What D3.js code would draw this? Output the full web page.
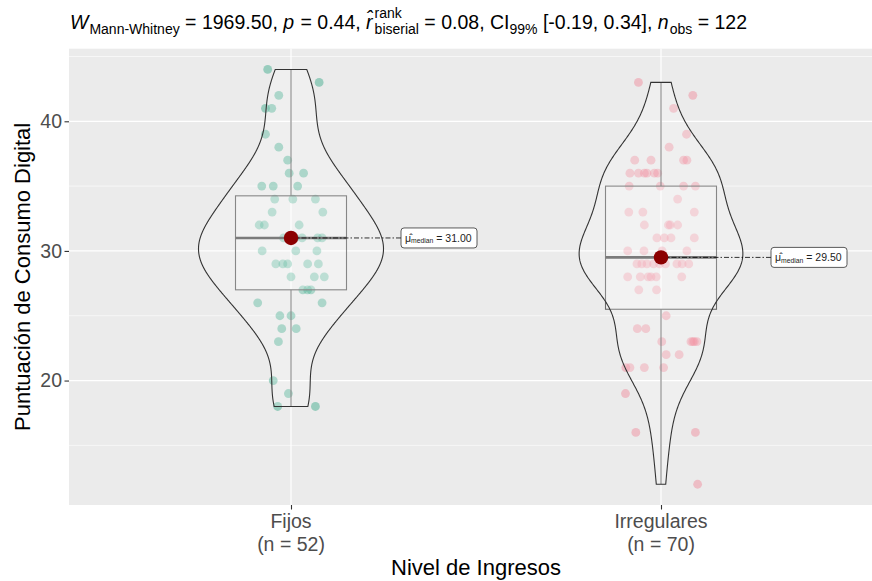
<!DOCTYPE html>
<html>
<head>
<meta charset="utf-8">
<script src="https://cdn.jsdelivr.net/npm/d3@7"></script>
<style>
  body { margin: 0; background: #fff; }
  svg { display: block; font-family: "Liberation Sans", Arial, sans-serif; }
</style>
</head>
<body>
<div id="chart"></div>
<script>
// groups and their values (score, jitter in category units)
var groups = ["Fijos", "Irregulares"];
var groupN = [52, 70];

var fijosVals = [44,43,42,41,41,39,38,37,36,36,35,35,35,34,34,34,33,33,32,32,32,
    31,31,31,31,31,31,30,30,30,29,29,29,29,29,28,28,28,27,27,27,26,26,25,25,24,24,23,20,19,18,18];
var fijosJit = [-0.063,0.076,-0.033,-0.069,-0.052,-0.069,-0.033,-0.009,-0.005,0.034,-0.079,-0.048,0.018,
    -0.044,0.005,0.066,-0.051,0.086,-0.086,-0.072,0.022,
    -0.020,-0.003,0.011,0.030,0.072,0.084,-0.078,0.013,0.070,-0.041,-0.022,-0.009,0.045,0.074,
    0.000,0.063,0.090,0.032,0.045,0.054,-0.090,0.084,-0.030,0.000,-0.025,0.014,-0.034,-0.048,-0.007,-0.036,0.066];

var irregVals = [43,42,41,39,38,37,37,37,37,36,36,36,36,36,36,35,35,35,35,34,33,33,33,
    32,32,32,32,31,31,31,31,30,30,30,30,29,29,29,29,29,29,29,29,29,
    28,28,28,28,28,28,27,27,25,24,24,23,23,23,23,23,22,22,21,21,21,21,19,16,16,12];
var irregJit = [-0.061,0.086,0.034,0.069,0.022,-0.071,-0.027,0.061,0.070,
    -0.084,-0.061,-0.045,-0.038,-0.018,-0.009,-0.086,-0.002,0.061,0.093,0.045,-0.087,-0.049,0.090,
    -0.045,0.020,0.025,0.045,-0.011,0.009,0.027,0.090,-0.090,-0.046,0.070,0.003,
    -0.065,-0.052,-0.038,-0.020,0.043,0.057,0.075,-0.004,0.012,
    -0.090,-0.056,-0.027,-0.013,0.056,-0.035,-0.060,-0.012,0.014,-0.064,-0.041,
    0.002,0.081,0.090,0.097,0.086,0.014,0.049,-0.095,-0.084,-0.045,0.007,-0.096,-0.068,0.093,0.099];

var yTicks = [20, 30, 40];
var yMinor = [15, 25, 35, 45];
var colors = ["#1B9E77", "#F0788C"];

var W = 872, H = 581;
var svg = d3.select("#chart").append("svg").attr("width", W).attr("height", H);
svg.append("rect").attr("width", W).attr("height", H).attr("fill", "#fff");

var panel = {left: 69, right: 883, top: 48.7, bottom: 505};

var data = [
    {g: groups[0], vals: fijosVals, jit: fijosJit, col: colors[0], n: groupN[0]},
    {g: groups[1], vals: irregVals, jit: irregJit, col: colors[1], n: groupN[1]}
];

var allVals = fijosVals.concat(irregVals);
var ext = d3.extent(allVals);
var pad = (ext[1] - ext[0]) * 0.05;

var x = d3.scalePoint().domain(groups).range([panel.left, panel.right]).padding(0.6);
var y = d3.scaleLinear().domain([ext[0] - pad, ext[1] + pad]).range([panel.bottom, panel.top]);
var step = x.step();

// panel background + grid
svg.append("rect").attr("x", panel.left).attr("y", panel.top)
    .attr("width", panel.right - panel.left).attr("height", panel.bottom - panel.top)
    .attr("fill", "#EBEBEB");
svg.selectAll("line.minor").data(yMinor).enter().append("line")
    .attr("x1", panel.left).attr("x2", panel.right)
    .attr("y1", function(d){ return y(d); }).attr("y2", function(d){ return y(d); })
    .attr("stroke", "#fff").attr("stroke-width", 0.6);
svg.selectAll("line.major").data(yTicks).enter().append("line")
    .attr("x1", panel.left).attr("x2", panel.right)
    .attr("y1", function(d){ return y(d); }).attr("y2", function(d){ return y(d); })
    .attr("stroke", "#fff").attr("stroke-width", 1.2);
svg.selectAll("line.vmaj").data(groups).enter().append("line")
    .attr("x1", function(d){ return x(d); }).attr("x2", function(d){ return x(d); })
    .attr("y1", panel.top).attr("y2", panel.bottom)
    .attr("stroke", "#fff").attr("stroke-width", 1.2);

// stats helpers
function bwNrd0(v) {
    var hi = d3.deviation(v);
    var s = v.slice().sort(d3.ascending);
    var iqr = d3.quantileSorted(s, 0.75) - d3.quantileSorted(s, 0.25);
    var lo = Math.min(hi, iqr / 1.34);
    return 0.9 * lo * Math.pow(v.length, -0.2);
}
function kde(v, bw, pts) {
    var c = 1 / (v.length * bw * Math.sqrt(2 * Math.PI));
    return pts.map(function(p) {
        return {y: p, d: c * d3.sum(v, function(t){ var u = (p - t) / bw; return Math.exp(-0.5 * u * u); })};
    });
}

data.forEach(function(g) {
    var s = g.vals.slice().sort(d3.ascending);
    g.q1 = d3.quantileSorted(s, 0.25);
    g.med = d3.quantileSorted(s, 0.5);
    g.q3 = d3.quantileSorted(s, 0.75);
    var iqr = g.q3 - g.q1;
    g.wlo = d3.min(s.filter(function(v){ return v >= g.q1 - 1.5 * iqr; }));
    g.whi = d3.max(s.filter(function(v){ return v <= g.q3 + 1.5 * iqr; }));
    var bw = bwNrd0(g.vals);
    var mn = s[0], mx = s[s.length - 1];
    var pts = d3.range(512).map(function(i){ return mn + (mx - mn) * i / 511; });
    g.dens = kde(g.vals, bw, pts);
    g.maxD = d3.max(g.dens, function(d){ return d.d; });
});
var globalMax = d3.max(data, function(g){ return g.maxD; });

// jittered points
data.forEach(function(g) {
    svg.append("g").selectAll("circle").data(g.vals).enter().append("circle")
        .attr("cx", function(d, i){ return x(g.g) + g.jit[i] * step; })
        .attr("cy", function(d){ return y(d); })
        .attr("r", 4.4)
        .attr("fill", g.col).attr("fill-opacity", 0.4);
});

// boxplots
var boxW = 0.3 * step;
data.forEach(function(g) {
    var cx = x(g.g);
    var b = svg.append("g");
    b.append("line").attr("x1", cx).attr("x2", cx).attr("y1", y(g.q3)).attr("y2", y(g.whi))
        .attr("stroke", "#6a6a6a").attr("stroke-width", 1.1);
    b.append("line").attr("x1", cx).attr("x2", cx).attr("y1", y(g.q1)).attr("y2", y(g.wlo))
        .attr("stroke", "#6a6a6a").attr("stroke-width", 1.1);
    b.append("rect").attr("x", cx - boxW / 2).attr("y", y(g.q3))
        .attr("width", boxW).attr("height", y(g.q1) - y(g.q3))
        .attr("fill", "#fff").attr("fill-opacity", 0.2)
        .attr("stroke", "#6a6a6a").attr("stroke-width", 1.1);
    b.append("line").attr("x1", cx - boxW / 2).attr("x2", cx + boxW / 2)
        .attr("y1", y(g.med)).attr("y2", y(g.med))
        .attr("stroke", "#5a5a5a").attr("stroke-width", 2.6);
});

// violins
var violW = 0.5 * step / 2;
data.forEach(function(g) {
    var cx = x(g.g);
    var area = d3.area()
        .y(function(d){ return y(d.y); })
        .x0(function(d){ return cx - d.d / globalMax * violW; })
        .x1(function(d){ return cx + d.d / globalMax * violW; });
    svg.append("path").datum(g.dens).attr("d", function(d){ return area(d) ; })
        .attr("fill", "#fff").attr("fill-opacity", 0.2)
        .attr("stroke", "#333").attr("stroke-width", 1.1);
});

// median labels + connectors
data.forEach(function(g) {
    var cx = x(g.g), my = y(g.med);
    var lx = cx + 0.4 * step;
    var lw = 76, lh = 20;
    svg.append("line").attr("x1", cx).attr("x2", lx - lw / 2).attr("y1", my).attr("y2", my)
        .attr("stroke", "#000").attr("stroke-width", 0.8).attr("stroke-dasharray", "5,2,1.5,2");
    svg.append("circle").attr("cx", cx).attr("cy", my).attr("r", 7.2).attr("fill", "#8B0000");
    svg.append("rect").attr("x", lx - lw / 2).attr("y", my - lh / 2).attr("width", lw).attr("height", lh)
        .attr("rx", 3).attr("fill", "#fff").attr("stroke", "#333").attr("stroke-width", 0.8);
    var t = svg.append("text").attr("x", lx - lw / 2 + 4).attr("y", my + 4)
        .attr("font-size", 10.5).attr("fill", "#222");
    t.append("tspan").text("\u03BC\u0302");
    t.append("tspan").attr("font-size", 6.8).attr("dy", 1.5).text("median");
    t.append("tspan").attr("dy", -1.5).text(" = " + g.med.toFixed(2));
});

// axes
var yAxis = d3.axisLeft(y).tickValues(yTicks).tickSize(4.5).tickPadding(2.5);
var ya = svg.append("g").attr("transform", "translate(" + panel.left + ",0)").call(yAxis);
ya.select(".domain").remove();
ya.selectAll(".tick line").attr("stroke", "#333").attr("stroke-width", 1.1);
ya.selectAll("text").attr("font-size", 19.5).attr("fill", "#4D4D4D")
    .attr("font-family", "Liberation Sans, Arial, sans-serif");

var xAxis = d3.axisBottom(x).tickSize(4.5).tickFormat("");
var xa = svg.append("g").attr("transform", "translate(0," + panel.bottom + ")").call(xAxis);
xa.select(".domain").remove();
xa.selectAll(".tick line").attr("stroke", "#333").attr("stroke-width", 1.1);
data.forEach(function(g) {
    var t = svg.append("text").attr("text-anchor", "middle").attr("font-size", 19.5).attr("fill", "#4D4D4D");
    t.append("tspan").attr("x", x(g.g)).attr("y", 528).text(g.g);
    t.append("tspan").attr("x", x(g.g)).attr("y", 551).text("(n = " + g.n + ")");
});

svg.append("text").attr("x", (panel.left + panel.right) / 2).attr("y", 575).attr("text-anchor", "middle")
    .attr("font-size", 22).attr("fill", "#000").text("Nivel de Ingresos");
svg.append("text").attr("transform", "translate(30," + ((panel.top + panel.bottom) / 2) + ") rotate(-90)")
    .attr("text-anchor", "middle").attr("font-size", 22).attr("fill", "#000")
    .text("Puntuación de Consumo Digital");

// subtitle with stats
var pieces = [
    {t: "W", s: 19.5, it: true},
    {t: "Mann-Whitney", s: 14, sub: true},
    {t: " = 1969.50, ", s: 19.5},
    {t: "p", s: 19.5, it: true},
    {t: " = 0.44, ", s: 19.5},
    {t: "r\u0302", s: 19.5, it: true},
    {stack: ["rank", "biserial"], s: 14},
    {t: " = 0.08, CI", s: 19.5},
    {t: "99%", s: 14, sub: true},
    {t: " [-0.19, 0.34], ", s: 19.5},
    {t: "n", s: 19.5, it: true},
    {t: "obs", s: 14, sub: true},
    {t: " = 122", s: 19.5}
];
var tx = 70, base = 29;
pieces.forEach(function(p) {
    if (p.stack) {
        var a = svg.append("text").attr("x", tx + 1).attr("y", base - 11).attr("font-size", p.s).text(p.stack[0]);
        var b = svg.append("text").attr("x", tx + 1).attr("y", base + 5).attr("font-size", p.s).text(p.stack[1]);
        tx += 1 + Math.max(a.node().getComputedTextLength(), b.node().getComputedTextLength());
        return;
    }
    var e = svg.append("text").attr("x", tx).attr("y", base + (p.sub ? 5 : 0))
        .attr("font-size", p.s).attr("font-style", p.it ? "italic" : null)
        .style("white-space", "pre").attr("xml:space", "preserve").text(p.t);
    tx += e.node().getComputedTextLength() + (p.it ? 1 : 0);
});
</script>
</body>
</html>
